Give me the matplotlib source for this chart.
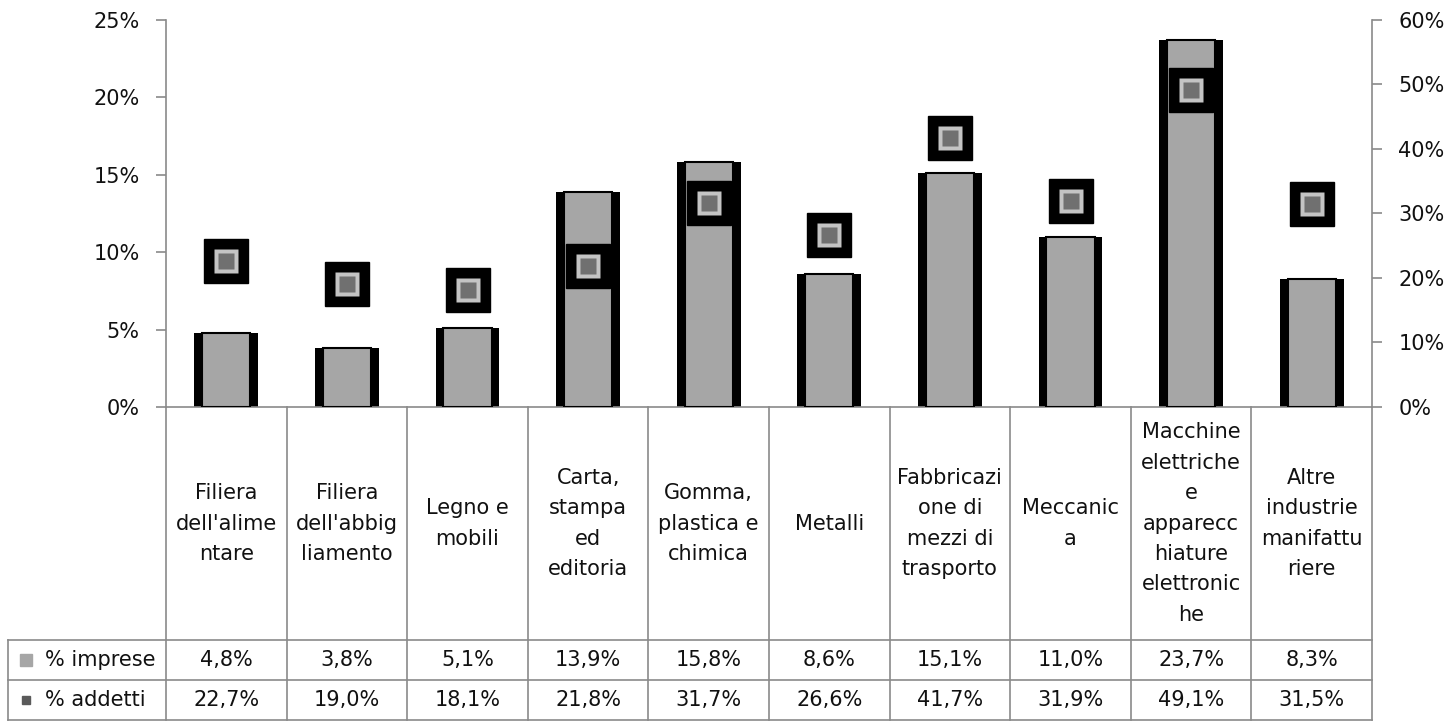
import matplotlib
matplotlib.use("Agg")
import matplotlib.pyplot as plt
import matplotlib.transforms as mtransforms
import numpy as np

plt.rcParams["font.family"] = ["DejaVu Sans"]

categories = ["Filiera\ndell'alime\nntare", "Filiera\ndell'abbig\nliamento", "Legno e\nmobili",
              "Carta,\nstampa\ned\neditoria", "Gomma,\nplastica e\nchimica", "Metalli",
              "Fabbricazi\none di\nmezzi di\ntrasporto", "Meccanic\na",
              "Macchine\nelettriche\ne\napparecc\nhiature\nelettronic\nhe",
              "Altre\nindustrie\nmanifattu\nriere"]
imprese = [4.8, 3.8, 5.1, 13.9, 15.8, 8.6, 15.1, 11.0, 23.7, 8.3]
addetti = [22.7, 19.0, 18.1, 21.8, 31.7, 26.6, 41.7, 31.9, 49.1, 31.5]
row_labels = ["% imprese", "% addetti"]
left_ticks = [0, 5, 10, 15, 20, 25]
right_ticks = [0, 10, 20, 30, 40, 50, 60]

GRID = "#8a8a8a"
TXT = "#111111"
FS = 15

fig = plt.figure(figsize=(14.49, 7.28), dpi=100)
ax = fig.add_axes([166 / 1449, 1 - 407 / 728, 1206 / 1449, 387 / 728])
ax2 = ax.twinx()

x = np.arange(len(categories))
ax.bar(x, imprese, width=0.53, color="black", zorder=2)
ax.bar(x, imprese, width=0.40, color="#a6a6a6", edgecolor="black", linewidth=1.5, zorder=3)

ax2.plot(x, addetti, ls="none", marker="s", ms=32, mfc="black", mec="black", zorder=4)
ax2.plot(x, addetti, ls="none", marker="s", ms=17, mfc="#c4c4c4", mec="none", zorder=5)
ax2.plot(x, addetti, ls="none", marker="s", ms=12, mfc="#707070", mec="none", zorder=6)

ax.set_xlim(-0.5, len(categories) - 0.5)
ax.set_ylim(0, 25)
ax2.set_ylim(0, 60)
ax.set_yticks(left_ticks)
ax.set_yticklabels([f"{t}%" for t in left_ticks])
ax2.set_yticks(right_ticks)
ax2.set_yticklabels([f"{t}%" for t in right_ticks])
ax.set_xticks([])

for a in (ax, ax2):
    a.set_facecolor("none")
    a.spines["top"].set_visible(False)
    for s in ("left", "right", "bottom"):
        a.spines[s].set_color(GRID)
        a.spines[s].set_linewidth(1.2)
    a.tick_params(axis="y", direction="out", length=7, width=1.2, color=GRID,
                  labelsize=FS, labelcolor=TXT, pad=12)
ax2.spines["left"].set_visible(False)
ax.spines["right"].set_visible(False)
ax2.spines["bottom"].set_visible(False)
ax.set_zorder(1)
ax2.set_zorder(2)

# data table below the plot
trans = mtransforms.blended_transform_factory(ax.transData, ax.transAxes)
y_head = -(640 - 407) / 387
y_r1 = -(680 - 407) / 387
y_r2 = -(720 - 407) / 387
x_left = -0.5 - (166 - 8) / 120.6
n = len(categories)
lk = dict(color=GRID, lw=1.2, clip_on=False, transform=trans)
for b in np.arange(-0.5, n, 1.0):
    ax.plot([b, b], [0, y_r2], **lk)
ax.plot([x_left, x_left], [y_head, y_r2], **lk)
for yy in (y_head, y_r1, y_r2):
    ax.plot([x_left, n - 0.5], [yy, yy], **lk)

for i, lab in enumerate(categories):
    ax.text(i, y_head / 2, lab, transform=trans, ha="center", va="center",
            fontsize=FS, color=TXT, linespacing=1.65, clip_on=False)
    ax.text(i, (y_head + y_r1) / 2, f"{imprese[i]:.1f}%".replace(".", ","), transform=trans,
            ha="center", va="center", fontsize=FS, color=TXT)
    ax.text(i, (y_r1 + y_r2) / 2, f"{addetti[i]:.1f}%".replace(".", ","), transform=trans,
            ha="center", va="center", fontsize=FS, color=TXT)

sq_x = x_left + 0.149
ax.plot([sq_x], [(y_head + y_r1) / 2], marker="s", ms=9, color="#a6a6a6", ls="none",
        transform=trans, clip_on=False)
ax.plot([sq_x], [(y_r1 + y_r2) / 2], marker="s", ms=6, color="#5a5a5a", ls="none",
        transform=trans, clip_on=False)
ax.text(sq_x + 0.155, (y_head + y_r1) / 2, row_labels[0], transform=trans, ha="left",
        va="center", fontsize=FS, color=TXT)
ax.text(sq_x + 0.155, (y_r1 + y_r2) / 2, row_labels[1], transform=trans, ha="left",
        va="center", fontsize=FS, color=TXT)

fig.savefig("out.png", dpi=100, facecolor="white")
